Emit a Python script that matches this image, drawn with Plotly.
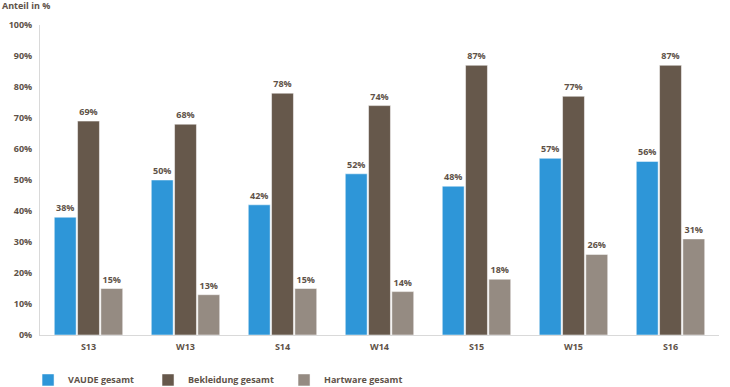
import plotly.graph_objects as go

categories = ["S13", "W13", "S14", "W14", "S15", "W15", "S16"]
vaude = [38, 50, 42, 52, 48, 57, 56]
bekleidung = [69, 68, 78, 74, 87, 77, 87]
hartware = [15, 13, 15, 14, 18, 26, 31]
y_ticks = [0, 10, 20, 30, 40, 50, 60, 70, 80, 90, 100]
y_tick_labels = [f"{v}%" for v in y_ticks]

series = [
    ("VAUDE gesamt", vaude, "#2E96D8", "legend"),
    ("Bekleidung gesamt", bekleidung, "#66584B", "legend2"),
    ("Hartware gesamt", hartware, "#958B82", "legend3"),
]

txt_col = "#5E5248"
font_fam = "Open Sans, Lato, sans-serif"

fig = go.Figure()
for name, vals, col, lg in series:
    fig.add_trace(go.Bar(
        x=categories, y=vals, name=name, legend=lg,
        marker=dict(color=col, line=dict(color="white", width=0.5)),
        text=[f"{v}%" for v in vals], textposition="outside",
        textfont=dict(size=9, color=txt_col, family=font_fam, weight="bold"),
        cliponaxis=False,
    ))

leg_common = dict(orientation="h", xanchor="left", y=-0.145, yanchor="middle",
                  font=dict(size=9, color=txt_col, family=font_fam, weight="bold"),
                  itemwidth=30, bgcolor="rgba(0,0,0,0)")

fig.update_layout(
    width=730, height=387,
    margin=dict(l=40, r=11, t=25, b=52, autoexpand=False),
    paper_bgcolor="white", plot_bgcolor="white",
    barmode="group", bargap=0.28, bargroupgap=0.06,
    font=dict(family=font_fam, color=txt_col, size=9),
    showlegend=True,
    legend=dict(x=-0.0176, **leg_common),
    legend2=dict(x=0.1591, **leg_common),
    legend3=dict(x=0.3594, **leg_common),
    xaxis=dict(showline=True, linecolor="#D9D9D9", linewidth=1, automargin=False,
               tickfont=dict(size=9, color=txt_col, family=font_fam, weight="bold"),
               ticks="", showgrid=False, ticklabelstandoff=3),
    yaxis=dict(range=[0, 100], tickvals=y_ticks, ticktext=y_tick_labels, automargin=False,
               showline=True, linecolor="#D9D9D9", linewidth=1, showgrid=False,
               zeroline=False, ticks="", ticklabelstandoff=5,
               tickfont=dict(size=9, color=txt_col, family=font_fam, weight="bold")),
    annotations=[dict(text="Anteil in %", xref="paper", yref="paper", x=0, y=1,
                      xshift=-40, yshift=20, xanchor="left", yanchor="middle",
                      showarrow=False,
                      font=dict(size=9, color=txt_col, family=font_fam, weight="bold"))],
)

fig.write_html("out.html", config={"displayModeBar": False},
               post_script="document.body.style.margin='0px';")
